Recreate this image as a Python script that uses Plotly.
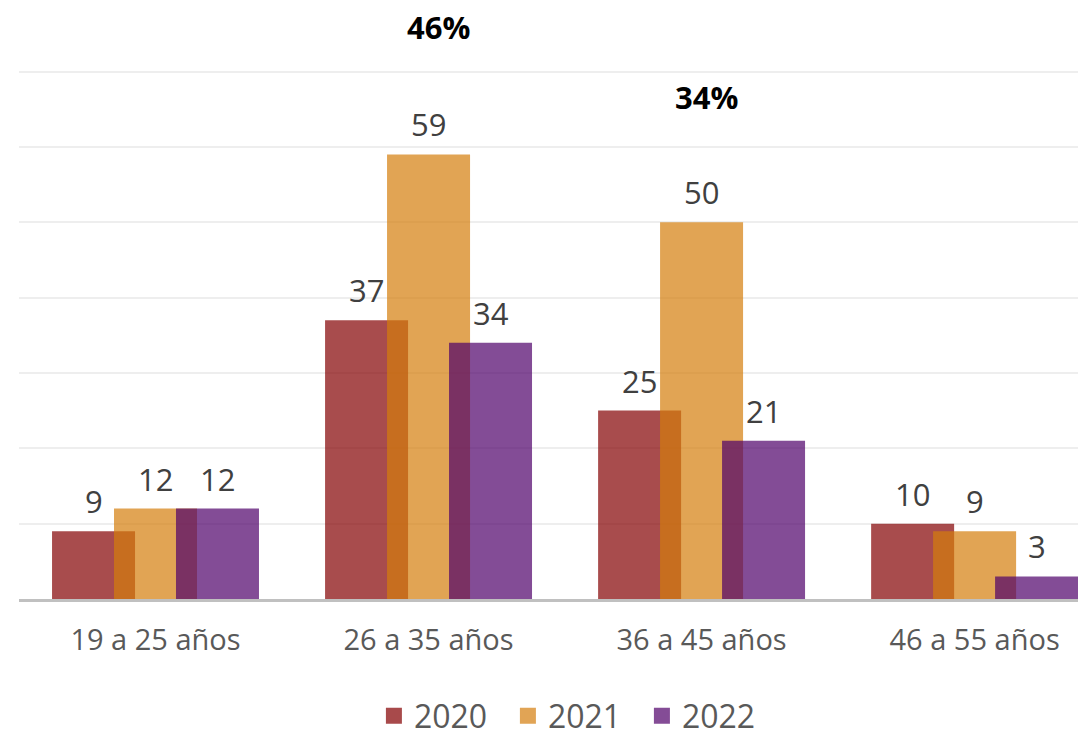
import plotly.graph_objects as go

categories = ["19 a 25 años", "26 a 35 años", "36 a 45 años", "46 a 55 años"]
years = ["2020", "2021", "2022"]
values_2020 = [9, 37, 25, 10]
values_2021 = [12, 59, 50, 9]
values_2022 = [12, 34, 21, 3]
highlight_labels = ["46%", "34%"]

series = [values_2020, values_2021, values_2022]
bar_colors = ["rgba(131,0,2,0.7)", "rgba(212,125,12,0.7)", "rgba(79,0,106,0.7)"]
legend_colors = ["#A84A4B", "#E1A455", "#844C96"]
bar_width = 0.304
bar_offsets = [-0.379, -0.152, 0.075]

FONT = "Open Sans"
fig = go.Figure()
xs = list(range(len(categories)))

for vals, col, off in zip(series, bar_colors, bar_offsets):
    fig.add_trace(go.Bar(
        x=xs, y=vals, width=bar_width, offset=off,
        marker=dict(color=col, line=dict(width=0)),
        showlegend=False, hoverinfo="skip"))

for name, col in zip(years, legend_colors):
    fig.add_trace(go.Scatter(
        x=[None], y=[None], mode="markers", name=name,
        marker=dict(symbol="square", size=20, color=col)))

annotations = []
for vals, off in zip(series, bar_offsets):
    for i, v in enumerate(vals):
        annotations.append(dict(
            x=i + off + bar_width / 2, y=v, xref="x", yref="y",
            text=str(v), showarrow=False, yanchor="middle", yshift=30,
            font=dict(family=FONT, size=31, color="#404040")))

annotations.append(dict(x=1.035, y=1.0813, xref="x", yref="paper", text="<b>" + highlight_labels[0] + "</b>",
                        showarrow=False, yanchor="middle",
                        font=dict(family=FONT, size=31, color="#000000")))
annotations.append(dict(x=2.019, y=0.949, xref="x", yref="paper", text="<b>" + highlight_labels[1] + "</b>",
                        showarrow=False, yanchor="middle",
                        font=dict(family=FONT, size=31, color="#000000")))

fig.update_layout(
    width=1086, height=735,
    margin=dict(l=11, r=8, t=62, b=144, autoexpand=False),
    paper_bgcolor="white", plot_bgcolor="white",
    barmode="overlay",
    annotations=annotations,
    legend=dict(orientation="h", x=0.521, xanchor="center", y=-0.221, yanchor="middle",
                font=dict(family=FONT, size=32, color="#595959"),
                itemwidth=30, entrywidth=89, bgcolor="rgba(0,0,0,0)"),
    xaxis=dict(
        tickmode="array", tickvals=xs, ticktext=categories,
        range=[-0.5, 3.408], showgrid=False, zeroline=False,
        showline=True, linecolor="#C0C0C0", linewidth=2.5,
        ticks="", ticklabelstandoff=13,
        tickfont=dict(family=FONT, size=29, color="#595959")),
    yaxis=dict(
        range=[0, 70.2], dtick=10, showticklabels=False,
        showgrid=True, gridcolor="#EEEEEE", gridwidth=1.5,
        zeroline=False, showline=False),
)

fig.write_html("out.html")
